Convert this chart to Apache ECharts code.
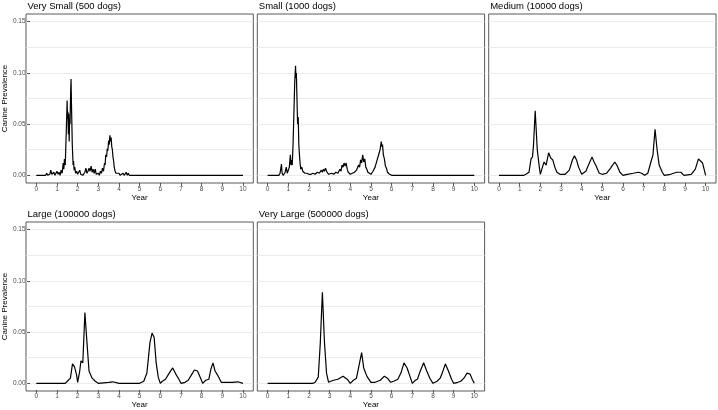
<!DOCTYPE html>
<html>
<head>
<meta charset="utf-8">
<script src="https://cdn.jsdelivr.net/npm/echarts@6/dist/echarts.min.js"></script>
<style>
  html, body { margin: 0; padding: 0; background: #fff; }
  #chart { width: 718px; height: 410px; }
</style>
</head>
<body>
<div id="chart"></div>
<script>
// panel titles
const titles = ['Very Small (500 dogs)', 'Small (1000 dogs)', 'Medium (10000 dogs)', 'Large (100000 dogs)', 'Very Large (500000 dogs)']

// [year, prevalence]
const verySmall = [[0,0],[0.45,0],[0.5,0.002],[0.55,0],[0.65,0.001],[0.7,0.005],[0.75,0.001],[0.85,0.003],[0.9,0],[1.0,0.004],[1.05,0.001],[1.1,0.003],[1.15,0],[1.2,0.005],[1.25,0.002],[1.3,0.012],[1.33,0.006],[1.36,0.016],[1.4,0.01],[1.43,0.03],[1.46,0.05],[1.49,0.073],[1.51,0.055],[1.53,0.062],[1.55,0.04],[1.57,0.06],[1.59,0.033],[1.61,0.055],[1.63,0.05],[1.66,0.08],[1.68,0.094],[1.7,0.07],[1.72,0.05],[1.74,0.03],[1.76,0.02],[1.78,0.01],[1.8,0.014],[1.83,0.005],[1.86,0.008],[1.9,0.002],[1.95,0.004],[2.0,0.001],[2.05,0.002],[2.1,0.005],[2.15,0.001],[2.2,0.002],[2.25,0],[2.35,0.003],[2.4,0.007],[2.45,0.002],[2.5,0.004],[2.55,0.007],[2.6,0.004],[2.65,0.009],[2.7,0.003],[2.75,0.006],[2.8,0.002],[2.85,0.006],[2.9,0.001],[3.0,0.002],[3.05,0],[3.1,0.004],[3.15,0.002],[3.2,0.007],[3.25,0.004],[3.3,0.012],[3.33,0.01],[3.36,0.02],[3.4,0.018],[3.43,0.026],[3.46,0.024],[3.5,0.034],[3.53,0.03],[3.56,0.039],[3.59,0.033],[3.62,0.037],[3.65,0.028],[3.68,0.025],[3.71,0.018],[3.74,0.014],[3.77,0.008],[3.8,0.005],[3.85,0.002],[3.9,0.001],[4.0,0.002],[4.05,0],[4.2,0.002],[4.25,0],[4.35,0.003],[4.4,0],[4.45,0.002],[4.5,0],[10,0]]

const small = [[0,0],[0.55,0],[0.6,0.002],[0.67,0.011],[0.7,0.002],[0.75,0],[0.85,0.003],[0.9,0.008],[0.95,0.002],[1.0,0.001],[1.05,0.008],[1.1,0.02],[1.13,0.01],[1.16,0.015],[1.19,0.01],[1.23,0.03],[1.27,0.06],[1.31,0.09],[1.35,0.107],[1.37,0.095],[1.39,0.1],[1.42,0.075],[1.45,0.05],[1.48,0.057],[1.51,0.03],[1.54,0.02],[1.57,0.012],[1.6,0.006],[1.65,0.008],[1.7,0.004],[1.75,0.005],[1.8,0.002],[1.9,0.002],[2.0,0.001],[2.1,0.001],[2.2,0.002],[2.3,0.001],[2.4,0.003],[2.5,0.002],[2.6,0.005],[2.65,0.003],[2.7,0.006],[2.75,0.004],[2.8,0.007],[2.85,0.004],[2.9,0.005],[2.95,0.001],[3.0,0.001],[3.1,0.002],[3.2,0.001],[3.3,0.003],[3.4,0.002],[3.5,0.006],[3.55,0.004],[3.6,0.01],[3.65,0.008],[3.7,0.012],[3.75,0.009],[3.8,0.012],[3.85,0.006],[3.9,0.003],[4.0,0.001],[4.1,0.002],[4.2,0.003],[4.25,0.002],[4.3,0.005],[4.35,0.004],[4.4,0.01],[4.45,0.008],[4.5,0.015],[4.55,0.012],[4.6,0.02],[4.65,0.013],[4.7,0.016],[4.75,0.008],[4.8,0.006],[4.85,0.003],[4.9,0.004],[5.0,0.001],[5.1,0.004],[5.15,0.003],[5.2,0.008],[5.25,0.007],[5.3,0.015],[5.35,0.014],[5.4,0.022],[5.45,0.026],[5.5,0.033],[5.53,0.028],[5.56,0.03],[5.6,0.02],[5.65,0.016],[5.7,0.009],[5.75,0.007],[5.8,0.003],[5.85,0.004],[5.9,0.001],[6.0,0],[6.3,0],[6.35,0.001],[6.4,0],[10,0]]

const medium = [[0,0],[1.2,0],[1.3,0.001],[1.45,0.003],[1.55,0.016],[1.62,0.018],[1.67,0.03],[1.75,0.063],[1.85,0.025],[1.95,0.008],[2.0,0.001],[2.1,0.008],[2.18,0.013],[2.28,0.01],[2.4,0.022],[2.5,0.017],[2.6,0.015],[2.7,0.008],[2.8,0.003],[2.95,0.001],[3.2,0.001],[3.4,0.005],[3.55,0.015],[3.65,0.019],[3.75,0.015],[3.85,0.008],[4.0,0.001],[4.2,0.004],[4.35,0.011],[4.5,0.018],[4.6,0.013],[4.7,0.009],[4.85,0.002],[5.0,0.001],[5.2,0.002],[5.4,0.007],[5.6,0.013],[5.7,0.01],[5.85,0.003],[6.0,0],[6.2,0.001],[6.5,0.002],[6.75,0.003],[6.9,0.002],[7.05,0],[7.2,0.002],[7.35,0.013],[7.45,0.02],[7.55,0.045],[7.65,0.025],[7.75,0.01],[7.9,0.003],[8.0,0],[8.3,0.001],[8.6,0.003],[8.8,0.003],[8.95,0],[9.3,0.001],[9.5,0.006],[9.65,0.016],[9.75,0.014],[9.85,0.012],[10,0]]

const large = [[0,0],[1.4,0],[1.5,0.002],[1.65,0.005],[1.75,0.019],[1.85,0.016],[1.95,0.008],[2.0,0.001],[2.1,0.012],[2.16,0.022],[2.25,0.02],[2.35,0.069],[2.45,0.04],[2.55,0.012],[2.7,0.005],[2.85,0.002],[3.0,0],[3.5,0.001],[3.7,0.0015],[4.0,0],[5.0,0],[5.2,0.002],[5.35,0.01],[5.5,0.04],[5.6,0.049],[5.7,0.045],[5.8,0.02],[5.9,0.006],[6.0,0],[6.1,0.002],[6.25,0.004],[6.4,0.009],[6.6,0.015],[6.75,0.009],[6.9,0.004],[7.0,0],[7.2,0.001],[7.35,0.003],[7.5,0.008],[7.65,0.013],[7.8,0.012],[7.95,0.005],[8.05,0],[8.2,0.003],[8.35,0.004],[8.45,0.014],[8.55,0.02],[8.65,0.012],[8.8,0.007],[8.95,0.001],[9.2,0.001],[9.5,0.001],[9.75,0.0015],[10,0]]

const veryLarge = [[0,0],[2.2,0],[2.3,0.001],[2.45,0.006],[2.55,0.04],[2.65,0.089],[2.75,0.04],[2.85,0.01],[2.95,0.001],[3.05,0.002],[3.2,0.003],[3.4,0.004],[3.65,0.007],[3.85,0.004],[4.0,0],[4.15,0.003],[4.3,0.005],[4.4,0.015],[4.55,0.03],[4.65,0.015],[4.8,0.007],[5.0,0.001],[5.2,0.001],[5.45,0.003],[5.65,0.007],[5.8,0.005],[5.95,0.001],[6.1,0.002],[6.3,0.004],[6.45,0.01],[6.6,0.02],[6.75,0.015],[6.9,0.006],[7.0,0],[7.15,0.003],[7.25,0.004],[7.35,0.01],[7.55,0.02],[7.7,0.012],[7.85,0.005],[8.0,0],[8.2,0.002],[8.35,0.005],[8.45,0.01],[8.6,0.019],[8.75,0.012],[8.9,0.004],[9.0,0],[9.2,0.001],[9.35,0.002],[9.5,0.005],[9.65,0.01],[9.8,0.009],[9.9,0.004],[10,0]]

const seriesData = [verySmall, small, medium, large, veryLarge]

const FONT = '"Liberation Sans", Arial, sans-serif'
// data limits; ggplot-style 5% expansion round them
const xMin = 0, xMax = 10, yMin = 0, yMax = 0.15
const xPad = (xMax - xMin) * 0.05, yPad = (yMax - yMin) * 0.05

// panel rectangles: [left, top, width, height]
const panels = [
  [26, 14, 227.3, 169],
  [257.3, 14, 227.3, 169],
  [488.7, 14, 227.3, 169],
  [26, 222, 227.3, 169],
  [257.3, 222, 227.3, 169]
]

const grid = [], xAxis = [], yAxis = [], series = [], title = []
const hidden = { axisLine: { show: false }, axisTick: { show: false }, axisLabel: { show: false }, splitLine: { show: false } }

panels.forEach(function (p, i) {
  const L = p[0], T = p[1], W = p[2], H = p[3]
  const fx = xPad / (xMax - xMin + 2 * xPad)
  const fy = yPad / (yMax - yMin + 2 * yPad)
  const inL = L + W * fx, inW = W * (1 - 2 * fx)
  const inT = T + H * fy, inH = H * (1 - 2 * fy)
  const leftCol = (i === 0 || i === 3)
  const g0 = grid.length

  // panel grid: border, gridlines and the line
  grid.push({ left: L, top: T, width: W, height: H, show: true, borderColor: '#5a5a5a', borderWidth: 1, backgroundColor: '#fff' })
  // x ticks: data width, full panel height
  grid.push({ left: inL, top: T, width: inW, height: H })
  // y ticks: full panel width, data height
  grid.push({ left: L, top: inT, width: W, height: inH })

  xAxis.push(Object.assign({ gridIndex: g0, type: 'value', min: xMin - xPad, max: xMax + xPad }, hidden))
  yAxis.push({
    gridIndex: g0, type: 'value', min: yMin - yPad, max: yMax + yPad,
    minInterval: 0.025, maxInterval: 0.025,
    axisLine: { show: false }, axisTick: { show: false }, axisLabel: { show: false },
    splitLine: { show: true, showMinLine: false, showMaxLine: false, lineStyle: { color: '#e6e6e6', width: 0.8 } }
  })

  xAxis.push({
    gridIndex: g0 + 1, type: 'value', min: xMin, max: xMax, interval: 1, position: 'bottom',
    axisLine: { show: false },
    axisTick: { show: true, length: 3, lineStyle: { color: '#333', width: 0.8 } },
    axisLabel: { show: true, fontSize: 6.5, color: '#4d4d4d', margin: 3, fontFamily: FONT },
    splitLine: { show: false },
    name: 'Year', nameLocation: 'middle', nameGap: 10,
    nameTextStyle: { fontSize: 8, color: '#000', fontFamily: FONT }
  })
  yAxis.push(Object.assign({ gridIndex: g0 + 1, type: 'value', min: 0, max: 1 }, hidden))

  xAxis.push(Object.assign({ gridIndex: g0 + 2, type: 'value', min: 0, max: 1 }, hidden))
  yAxis.push({
    gridIndex: g0 + 2, type: 'value', min: yMin, max: yMax, interval: 0.05, position: 'left',
    show: leftCol,
    axisLine: { show: false },
    axisTick: { show: true, length: 3, lineStyle: { color: '#333', width: 0.8 } },
    axisLabel: { show: true, fontSize: 6.5, color: '#4d4d4d', margin: 4.5, fontFamily: FONT,
      formatter: function (v) { return v.toFixed(2) } },
    splitLine: { show: false },
    name: 'Canine Prevalence', nameLocation: 'middle', nameGap: 17,
    nameTextStyle: { fontSize: 8, color: '#000', fontFamily: FONT }
  })

  series.push({
    type: 'line', xAxisIndex: g0, yAxisIndex: g0, data: seriesData[i],
    showSymbol: false, symbol: 'none', z: 5,
    lineStyle: { color: '#000', width: 1.2 }
  })

  title.push({
    text: titles[i], left: L + 1.5, top: T - 12.5, padding: 0,
    textStyle: { fontSize: 9.5, fontWeight: 'normal', color: '#000', fontFamily: FONT }
  })
})

const chart = echarts.init(document.getElementById('chart'))
chart.setOption({
  animation: false,
  backgroundColor: '#fff',
  title: title,
  grid: grid,
  xAxis: xAxis,
  yAxis: yAxis,
  series: series
})
</script>
</body>
</html>
